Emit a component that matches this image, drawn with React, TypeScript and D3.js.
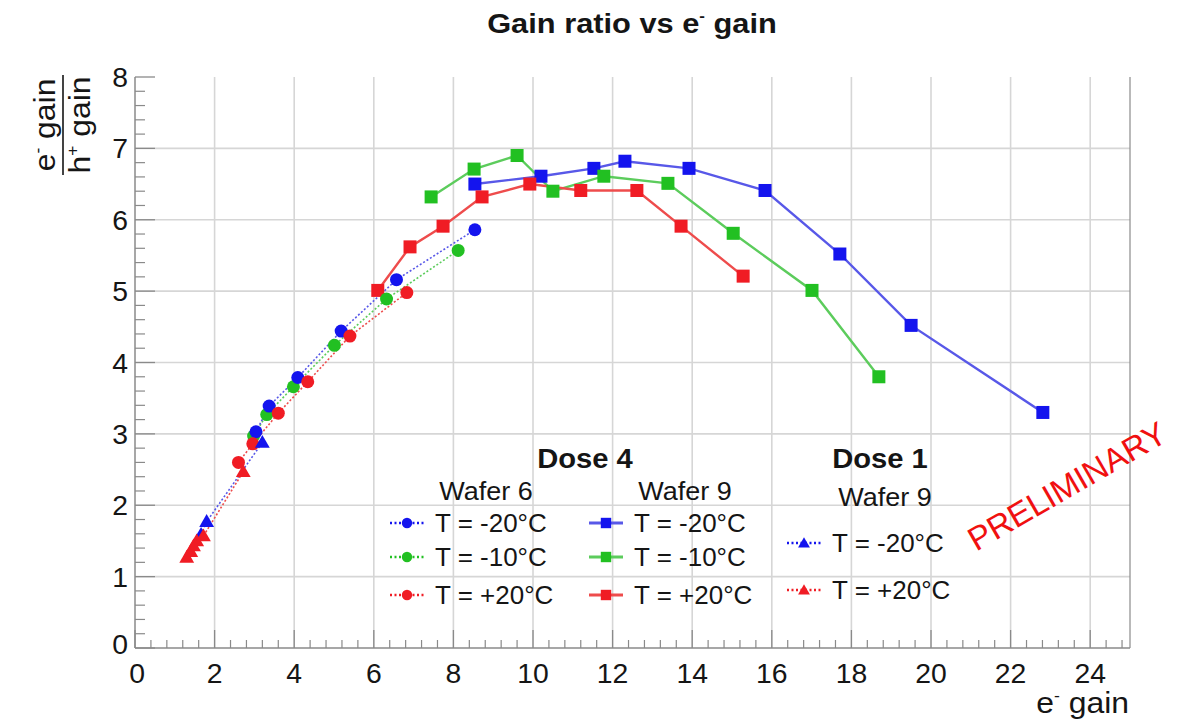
import React from "react";
import * as d3 from "d3";

// ---- data: e- gain (x) vs e-/h+ gain ratio (y) ----
// Dose 4, Wafer 6 (circles, dotted)
const w6m20x = [3.04, 3.37, 4.09, 5.18, 6.57, 8.54];
const w6m20y = [3.03, 3.39, 3.79, 4.44, 5.16, 5.86];
const w6m10x = [2.98, 3.31, 3.98, 5.01, 6.32, 8.12];
const w6m10y = [2.97, 3.27, 3.66, 4.24, 4.89, 5.57];
const w6p20x = [2.6, 2.96, 3.6, 4.34, 5.4, 6.83];
const w6p20y = [2.6, 2.86, 3.29, 3.73, 4.37, 4.98];
// Dose 4, Wafer 9 (squares, solid)
const w9m20x = [8.54, 10.2, 11.53, 12.31, 13.92, 15.83, 17.71, 19.5, 22.81];
const w9m20y = [6.5, 6.61, 6.72, 6.82, 6.72, 6.41, 5.52, 4.52, 3.3];
const w9m10x = [7.44, 8.52, 9.6, 10.5, 11.78, 13.39, 15.03, 17.01, 18.69];
const w9m10y = [6.32, 6.71, 6.9, 6.4, 6.61, 6.51, 5.81, 5.01, 3.8];
const w9p20x = [6.1, 6.91, 7.74, 8.72, 9.92, 11.2, 12.61, 13.72, 15.28];
const w9p20y = [5.01, 5.62, 5.91, 6.32, 6.5, 6.41, 6.41, 5.91, 5.21];
// Dose 1, Wafer 9 (triangles, dotted)
const d1m20x = [1.66, 1.8, 3.2];
const d1m20y = [1.59, 1.77, 2.88];
const d1p20x = [1.3, 1.4, 1.47, 1.55, 1.72, 2.72];
const d1p20y = [1.27, 1.35, 1.43, 1.5, 1.57, 2.47];

const xTicks = [0, 2, 4, 6, 8, 10, 12, 14, 16, 18, 20, 22, 24];
const yTicks = [0, 1, 2, 3, 4, 5, 6, 7, 8];

const BLUE = "#1414ee";
const GREEN = "#22c022";
const RED = "#f01c24";
const BLUE_L = "#5858e8";
const GREEN_L = "#5ccc5c";
const RED_L = "#ee4c4c";

type Shape = "circle" | "square" | "triangle";
interface Series {
  xs: number[];
  ys: number[];
  color: string;
  line: string;
  shape: Shape;
  dotted: boolean;
}

const series: Series[] = [
  { xs: w9m20x, ys: w9m20y, color: BLUE, line: BLUE_L, shape: "square", dotted: false },
  { xs: w9m10x, ys: w9m10y, color: GREEN, line: GREEN_L, shape: "square", dotted: false },
  { xs: w9p20x, ys: w9p20y, color: RED, line: RED_L, shape: "square", dotted: false },
  { xs: w6m10x, ys: w6m10y, color: GREEN, line: GREEN_L, shape: "circle", dotted: true },
  { xs: w6m20x, ys: w6m20y, color: BLUE, line: BLUE_L, shape: "circle", dotted: true },
  { xs: w6p20x, ys: w6p20y, color: RED, line: RED_L, shape: "circle", dotted: true },
  { xs: d1m20x, ys: d1m20y, color: BLUE, line: BLUE_L, shape: "triangle", dotted: true },
  { xs: d1p20x, ys: d1p20y, color: RED, line: RED_L, shape: "triangle", dotted: true },
];

const FONT = "'Liberation Sans', Arial, Helvetica, sans-serif";
const INK = "#151515";

const L = 135, R = 1130, T = 77, B = 648;
const x = d3.scaleLinear().domain([0, 25]).range([L, R]);
const y = d3.scaleLinear().domain([0, 8]).range([B, T]);

// text drawn with a slight horizontal stretch
function Txt({ x: tx, y: ty, size, anchor = "start", bold = false, sx = 1, children }:
  { x: number; y: number; size: number; anchor?: string; bold?: boolean; sx?: number; children: React.ReactNode }) {
  return (
    <text transform={`translate(${tx},${ty}) scale(${sx},1)`} textAnchor={anchor as any} fontSize={size}
      fontWeight={bold ? "bold" : "normal"} fontFamily={FONT} fill={INK}>
      {children}
    </text>
  );
}

// "<base><sup> gain" label
function GainLabel({ base, sup, size }: { base: string; sup: string; size: number }) {
  return (
    <>
      {base}
      <tspan fontSize={size * 0.55} dy={-size * 0.42}>{sup}</tspan>
      <tspan dy={size * 0.42}> gain</tspan>
    </>
  );
}

function Marker({ cx, cy, shape, color, scale = 1 }: { cx: number; cy: number; shape: Shape; color: string; scale?: number }) {
  if (shape === "circle") return <circle cx={cx} cy={cy} r={6.5 * scale} fill={color} />;
  if (shape === "square") {
    const s = 13 * scale;
    return <rect x={cx - s / 2} y={cy - s / 2} width={s} height={s} fill={color} />;
  }
  const p = d3.symbol().type(d3.symbolTriangle).size(95 * scale * scale)() as string;
  return <path d={p} transform={`translate(${cx},${cy + 1})`} fill={color} />;
}

function LegendEntry({ lx, ly, s, label }: { lx: number; ly: number; s: Series; label: string }) {
  return (
    <g>
      <line x1={lx} x2={lx + 34} y1={ly} y2={ly} stroke={s.dotted ? s.color : s.line}
        strokeWidth={s.dotted ? 2.5 : 3} strokeDasharray={s.dotted ? "2,2.5" : undefined} />
      <Marker cx={lx + 17} cy={ly} shape={s.shape} color={s.color} scale={0.8} />
      <Txt x={lx + 45} y={ly + 9} size={25} sx={1.04}>{label}</Txt>
    </g>
  );
}

export default function App() {
  const line = d3.line<[number, number]>().x((d) => x(d[0])).y((d) => y(d[1]));
  const xMinor = d3.range(0, 25.001, 0.4).filter((v) => Math.abs(v / 2 - Math.round(v / 2)) > 1e-6);
  const yMinor = d3.range(0, 8.001, 0.2).filter((v) => Math.abs(v - Math.round(v)) > 1e-6);
  const axisCol = "#8a8a8a";
  const gridCol = "#d6d6d6";

  return (
    <svg width={1189} height={721} style={{ position: "absolute", left: 0, top: 0, background: "#fff" }}>
      {/* title */}
      <Txt x={632} y={33} size={28} bold anchor="middle" sx={1.1}>
        <GainLabel base="Gain ratio vs e" sup="-" size={28} />
      </Txt>

      {/* grid */}
      {xTicks.filter((v) => v > 0).map((v) => (
        <line key={"gx" + v} x1={x(v)} x2={x(v)} y1={T} y2={B} stroke={gridCol} strokeWidth={1.6} />
      ))}
      {yTicks.filter((v) => v > 0 && v < 8).map((v) => (
        <line key={"gy" + v} x1={L} x2={R} y1={y(v)} y2={y(v)} stroke={gridCol} strokeWidth={1.6} />
      ))}

      {/* frame */}
      <line x1={L} x2={R} y1={B} y2={B} stroke={axisCol} strokeWidth={1.5} />
      <line x1={L} x2={L} y1={T} y2={B} stroke={axisCol} strokeWidth={1.5} />
      <line x1={R} x2={R} y1={T} y2={B} stroke={axisCol} strokeWidth={1.2} />

      {/* ticks */}
      {xTicks.map((v) => (
        <line key={"tx" + v} x1={x(v)} x2={x(v)} y1={B} y2={B - 18} stroke={axisCol} strokeWidth={1.3} />
      ))}
      {xMinor.map((v) => (
        <line key={"mx" + v} x1={x(v)} x2={x(v)} y1={B} y2={B - 8} stroke={axisCol} strokeWidth={1.2} />
      ))}
      {yTicks.map((v) => (
        <line key={"ty" + v} x1={L} x2={L + 20} y1={y(v)} y2={y(v)} stroke={axisCol} strokeWidth={1.3} />
      ))}
      {yMinor.map((v) => (
        <line key={"my" + v} x1={L} x2={L + 10} y1={y(v)} y2={y(v)} stroke={axisCol} strokeWidth={1.2} />
      ))}

      {/* tick labels */}
      {xTicks.map((v) => (
        <Txt key={"lx" + v} x={x(v) + (v === 0 ? 2 : 0)} y={683} size={27} anchor="middle" sx={1.05}>{v}</Txt>
      ))}
      {yTicks.map((v) => (
        <Txt key={"ly" + v} x={128} y={y(v) + 10 - (v === 0 ? 4 : 0)} size={27} anchor="end" sx={1.05}>{v}</Txt>
      ))}

      {/* axis titles */}
      <Txt x={1129} y={713} size={29} anchor="end" sx={1.1}>
        <GainLabel base="e" sup="-" size={29} />
      </Txt>
      <g transform="translate(0,125) rotate(-90)">
        <Txt x={0} y={55} size={29} anchor="middle" sx={1.1}>
          <GainLabel base="e" sup="-" size={29} />
        </Txt>
        <line x1={-50} x2={50} y1={63} y2={63} stroke={INK} strokeWidth={1.6} />
        <Txt x={0} y={90} size={29} anchor="middle" sx={1.1}>
          <GainLabel base="h" sup="+" size={29} />
        </Txt>
      </g>

      {/* series lines */}
      {series.map((s, i) => (
        <path key={"l" + i} d={line(s.xs.map((v, j) => [v, s.ys[j]]) as [number, number][]) as string}
          fill="none" stroke={s.line} strokeWidth={s.dotted ? 1.6 : 2.4}
          strokeDasharray={s.dotted ? "2,2" : undefined} />
      ))}
      {/* series markers */}
      {series.map((s, i) => (
        <g key={"m" + i}>
          {s.xs.map((v, j) => (
            <Marker key={j} cx={x(v)} cy={y(s.ys[j])} shape={s.shape} color={s.color} />
          ))}
        </g>
      ))}

      {/* legend */}
      <Txt x={585} y={468} size={27} bold anchor="middle" sx={1.08}>Dose 4</Txt>
      <Txt x={486} y={500} size={25} anchor="middle" sx={1.08}>Wafer 6</Txt>
      <Txt x={685} y={500} size={25} anchor="middle" sx={1.08}>Wafer 9</Txt>
      <LegendEntry lx={390} ly={523} s={series[4]} label="T = -20°C" />
      <LegendEntry lx={390} ly={557} s={series[3]} label="T = -10°C" />
      <LegendEntry lx={390} ly={595} s={series[2 + 3]} label="T = +20°C" />
      <LegendEntry lx={589} ly={523} s={series[0]} label="T = -20°C" />
      <LegendEntry lx={589} ly={557} s={series[1]} label="T = -10°C" />
      <LegendEntry lx={589} ly={595} s={series[2]} label="T = +20°C" />
      <Txt x={880} y={468} size={27} bold anchor="middle" sx={1.08}>Dose 1</Txt>
      <Txt x={885} y={506} size={25} anchor="middle" sx={1.08}>Wafer 9</Txt>
      <LegendEntry lx={787} ly={543} s={series[6]} label="T = -20°C" />
      <LegendEntry lx={787} ly={590} s={series[7]} label="T = +20°C" />

      {/* stamp */}
      <text x={1067} y={486} textAnchor="middle" dominantBaseline="central" fontSize={33}
        fontFamily={"'Liberation Sans', Arial, sans-serif"} fill="#f01010"
        transform="rotate(-30,1067,486)">PRELIMINARY</text>
    </svg>
  );
}
